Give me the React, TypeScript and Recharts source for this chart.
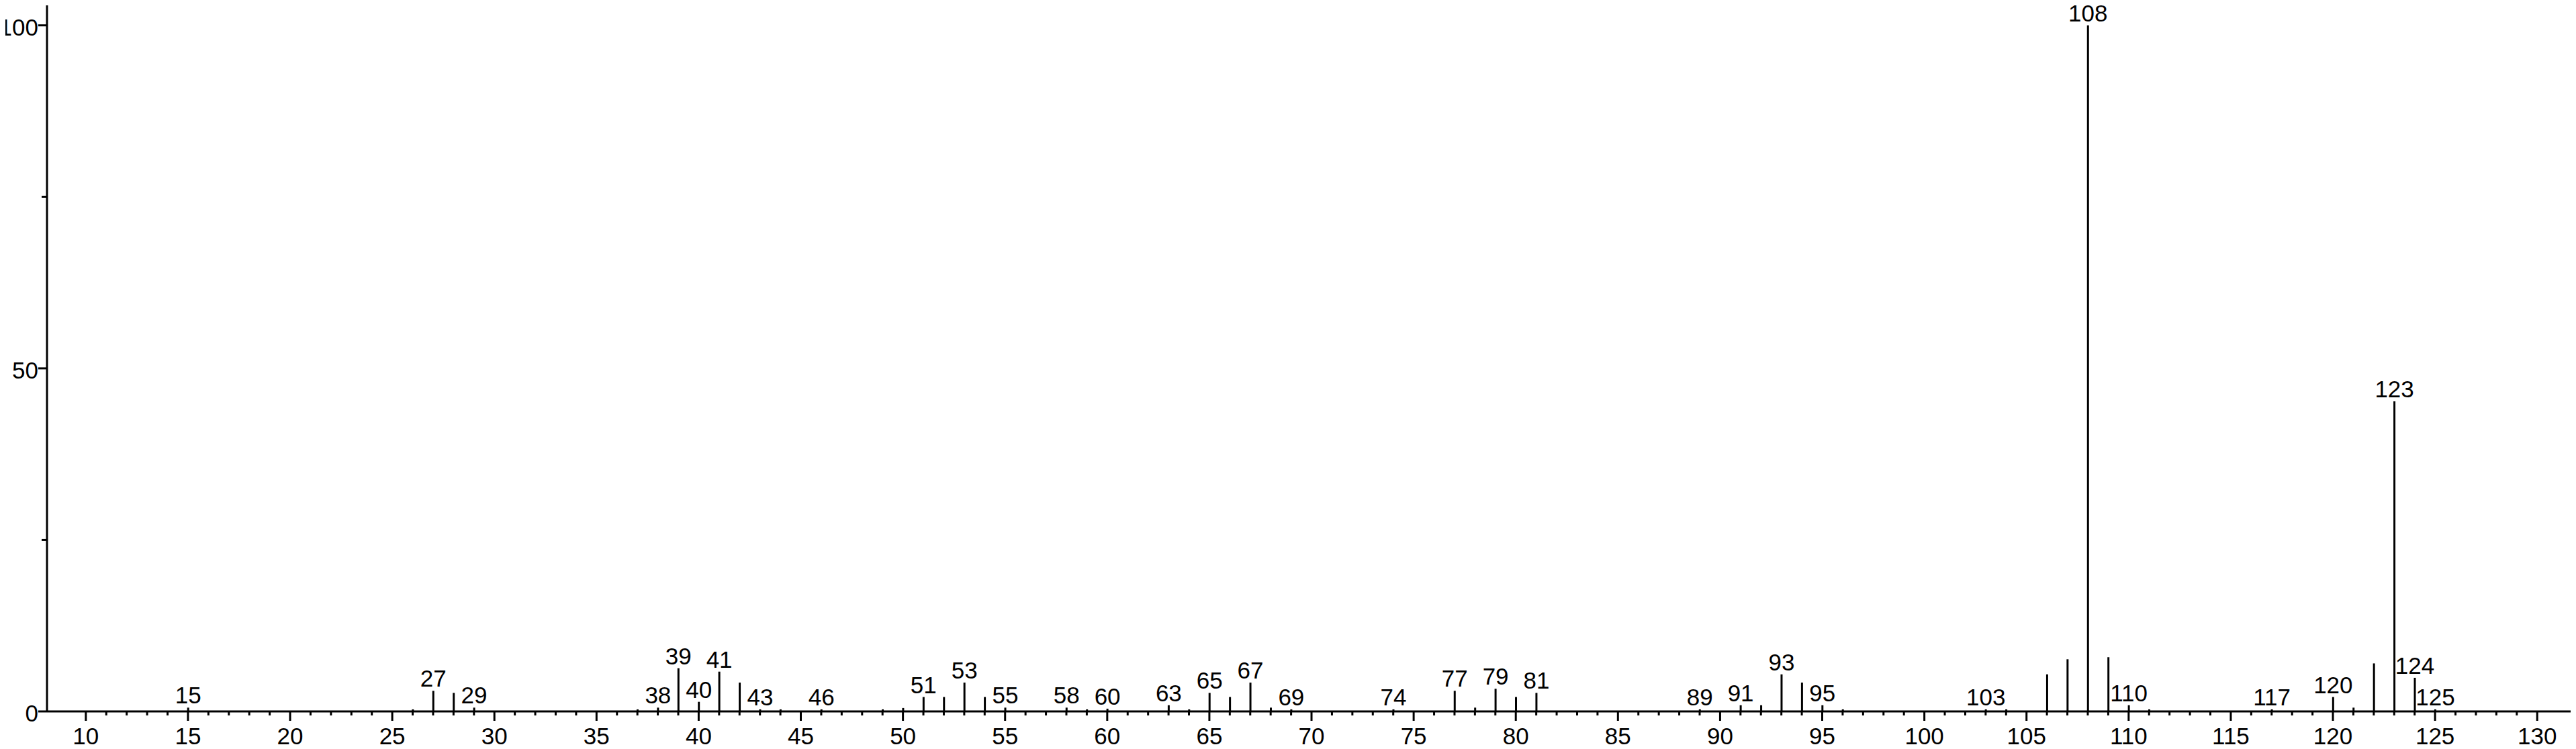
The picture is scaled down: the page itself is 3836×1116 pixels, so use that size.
import { BarChart, Bar, XAxis, YAxis, LabelList } from 'recharts'

const masses = [
  15, 26, 27, 28, 29, 37, 38, 39, 40, 41, 42, 43, 44, 46, 49, 50, 51, 52, 53, 54,
  55, 58, 59, 60, 63, 64, 65, 66, 67, 68, 69, 74, 77, 78, 79, 80, 81, 89, 91, 92,
  93, 94, 95, 96, 103, 104, 106, 107, 108, 109, 110, 111, 117, 120, 121, 122, 123, 124, 125,
]

const intensities = [
  0.55, 0.3, 3.0, 2.7, 0.55, 0.3, 0.55, 6.3, 1.4, 5.8, 4.2, 0.3, 0.3, 0.3, 0.3, 0.5, 2.1, 2.1, 4.2, 2.1,
  0.55, 0.55, 0.3, 0.4, 0.9, 0.3, 2.7, 2.1, 4.2, 0.55, 0.3, 0.3, 3.0, 0.55, 3.3, 2.1, 2.7, 0.3, 0.9, 0.9,
  5.4, 4.2, 0.9, 0.3, 0.3, 0.3, 5.4, 7.6, 100, 7.9, 0.9, 0.3, 0.3, 2.1, 0.55, 7.0, 45.2, 4.9, 0.3,
]

const labeledMasses = [
  15, 27, 29, 38, 39, 40, 41, 43, 46, 51, 53, 55, 58, 60, 63, 65, 67, 69, 74, 77,
  79, 81, 89, 91, 93, 95, 103, 108, 110, 117, 120, 123, 124, 125,
]

const xTicks = Array.from({ length: 121 }, (_, i) => 10 + i)
const yTicks = [0, 25, 50, 75, 100]
const yLabels = [0, 50, 100]

const data = masses.map((m, i) => ({ mass: m, intensity: intensities[i] }))

const font = "'Liberation Sans Narrow', 'Arial Narrow', 'Liberation Sans', Arial, sans-serif"
const fontSize = 35

function XTick(props: any) {
  const { x, y, payload } = props
  const v = payload.value
  const major = v % 5 === 0
  return (
    <g>
      <line x1={x} x2={x} y1={y} y2={y + (major ? 14 : 6)} stroke="#000" strokeWidth={3} />
      {major && (
        <text x={x} y={y + 49} textAnchor="middle" fontFamily={font} fontSize={fontSize} fill="#000">
          {v}
        </text>
      )}
    </g>
  )
}

function YTick(props: any) {
  const { x, y, payload } = props
  const v = payload.value
  const major = yLabels.includes(v)
  return (
    <g>
      <line x1={x - (major ? 13 : 8)} x2={x} y1={y} y2={y} stroke="#000" strokeWidth={3} />
      {major && (
        <text x={x - 13} y={y + 15} textAnchor="end" fontFamily={font} fontSize={fontSize} fill="#000">
          {v}
        </text>
      )}
    </g>
  )
}

function PeakLabel(props: any) {
  const { x, y, width, value } = props
  if (!labeledMasses.includes(value)) return null
  return (
    <text x={x + width / 2} y={y - 6} textAnchor="middle" fontFamily={font} fontSize={fontSize} fill="#000">
      {value}
    </text>
  )
}

export default function App() {
  return (
    <div style={{ margin: '-8px 0 0 -8px', background: '#fff' }}>
      <BarChart
        width={3836}
        height={1116}
        data={data}
        margin={{ top: 3, right: 3, bottom: 0, left: 0 }}
      >
        <XAxis
          dataKey="mass"
          type="number"
          domain={[8.1, 131.8]}
          ticks={xTicks}
          interval={0}
          height={56}
          tickSize={0}
          tickMargin={0}
          tickLine={false}
          tick={<XTick />}
          axisLine={{ stroke: '#000', strokeWidth: 3 }}
          allowDataOverflow
        />
        <YAxis
          type="number"
          domain={[0, 103.4]}
          ticks={yTicks}
          interval={0}
          width={70}
          tickSize={0}
          tickMargin={0}
          tickLine={false}
          tick={<YTick />}
          axisLine={{ stroke: '#000', strokeWidth: 3 }}
          allowDataOverflow
        />
        <Bar dataKey="intensity" fill="#000" barSize={3} isAnimationActive={false}>
          <LabelList dataKey="mass" content={<PeakLabel />} />
        </Bar>
      </BarChart>
    </div>
  )
}
